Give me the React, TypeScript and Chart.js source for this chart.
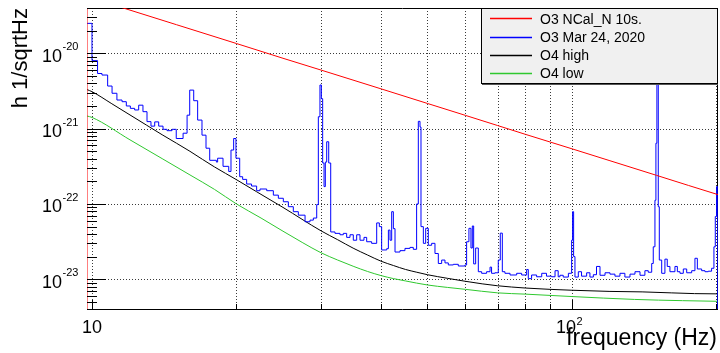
import React, { useEffect, useRef } from 'react';
import { Chart, registerables } from 'chart.js';

Chart.register(...registerables);

// ---- axis ranges ----
const X_MIN = 9.763;
const X_MAX = 201.5;
const Y_MIN = 4.03e-24;
const Y_MAX = 4.0e-20;
const FLOOR = 1e-30; // histogram edge drop (below the axis)

// ---- grid / tick values ----
const X_GRID = [10, 20, 30, 40, 50, 60, 70, 80, 90, 100, 200];
const X_MAJOR = [10, 100];
const Y_DECADES = [-23, -22, -21, -20];

const LABELS = ['O3 NCal_N 10s.', 'O3 Mar 24, 2020', 'O4 high', 'O4 low'];
const COLORS = ['#ff0000', '#0000ff', '#000000', '#2fc82f'];

// ---- O3 NCal_N 10s. (red) ----
const RED_F = [9.763, 9.763, 10, 12, 15, 20, 25, 30, 40, 50, 60, 70, 80, 100, 120, 150, 175, 201.5];
const RED_H = [FLOOR, 5.65e-20, 5.4e-20, 3.75e-20, 2.4e-20, 1.35e-20, 8.6e-21, 6.0e-21, 3.38e-21, 2.16e-21, 1.5e-21, 1.1e-21, 8.4e-22, 5.4e-22, 3.75e-22, 2.4e-22, 1.76e-22, 1.33e-22];

// ---- O3 Mar 24, 2020 (blue), bin left edges + values ----
const BLUE_F = [
  9.763, 10.0, 10.27, 10.49, 10.78, 11.01, 11.27, 11.55, 11.79, 12.02,
  12.27, 12.51, 12.77, 13.02, 13.27, 13.51, 13.77, 14.06, 14.33, 14.68,
  14.98, 15.48, 15.78, 15.98, 16.29, 16.6, 16.95, 17.28, 17.59, 18.16,
  18.27, 18.75, 19.27, 19.48, 19.73, 19.95, 20.31, 20.6, 21.0, 21.5,
  22.03, 22.39, 23.12, 23.87, 24.45, 25.04, 25.65, 26.27, 26.91, 27.79,
  28.46, 28.92, 29.39, 29.62, 29.85, 30.05, 30.24, 30.44, 30.63, 30.83,
  31.13, 31.43, 32.08, 32.86, 33.39, 33.93, 34.48, 35.03, 35.6, 36.17,
  36.87, 37.35, 38.25, 39.19, 39.69, 40.13, 41.12, 41.45, 41.78, 42.11,
  42.45, 42.79, 43.82, 44.88, 45.97, 46.71, 47.46, 47.85, 48.24, 48.47,
  49.02, 49.57, 50.2, 51.01, 51.83, 52.67, 53.52, 54.38, 55.26, 56.6,
  57.97, 59.85, 60.33, 61.0, 61.6, 62.0, 62.4, 63.0, 63.81, 64.84,
  66.4, 67.5, 68.0, 69.1, 70.22, 70.9, 71.6, 72.5, 74.3, 76.7,
  78.55, 80.46, 81.1, 82.4, 84.4, 86.5, 88.5, 90.7, 92.2, 93.6,
  94.4, 95.9, 98.3, 99.84, 100.3, 100.8, 101.45, 103.1, 104.7, 107.3,
  109.0, 110.8, 112.5, 114.4, 117.2, 120.0, 122.9, 125.9, 128.9, 132.1,
  135.3, 138.6, 141.9, 144.2, 146.6, 147.7, 148.9, 149.6, 150.3, 151.3,
  152.05, 153.8, 156.2, 157.96, 160.0, 163.9, 165.8, 167.9, 170.6, 173.4,
  177.6, 180.4, 182.5, 186.3, 189.3, 192.3, 195.4, 197.6, 198.9, 200.1,
  201.2, 201.2,
];
const BLUE_H = [
  2.5e-20, 8.0e-21, 5.4e-21, 5.15e-21, 3.68e-21, 2.95e-21, 2.4e-21, 2.28e-21, 2.0e-21, 1.86e-21,
  1.77e-21, 2.05e-21, 1.68e-21, 1.24e-21, 1.08e-21, 1.23e-21, 1.08e-21, 9.8e-22, 9.4e-22, 9.8e-22,
  7.4e-22, 8.7e-22, 1.51e-21, 3.25e-21, 2.35e-21, 1.3e-21, 8.2e-22, 5.5e-22, 3.8e-22, 3.6e-22,
  4.05e-22, 3.16e-22, 2.7e-22, 5.2e-22, 7.4e-22, 4.05e-22, 2.3e-22, 2.12e-22, 1.84e-22, 1.73e-22,
  1.5e-22, 1.58e-22, 1.5e-22, 1.31e-22, 1.19e-22, 1.07e-22, 9.2e-23, 7.9e-23, 7.1e-23, 5.8e-23,
  6.1e-23, 6.5e-23, 9.8e-23, 1.44e-21, 3.8e-21, 2.5e-21, 3.5e-22, 1.7e-22, 3.6e-22, 6.7e-22,
  3.5e-22, 4.25e-23, 4.07e-23, 3.9e-23, 4.07e-23, 3.6e-23, 3.9e-23, 3.3e-23, 3.9e-23, 3.3e-23,
  3.6e-23, 3.15e-23, 3.0e-23, 5.6e-23, 5.0e-23, 2.45e-23, 2.55e-23, 4.5e-23, 3.3e-23, 7.9e-23,
  4.7e-23, 2.3e-23, 2.4e-23, 2.57e-23, 2.65e-23, 2.5e-23, 1.0e-22, 1.25e-21, 1.05e-21, 5.0e-23,
  3.0e-23, 4.75e-23, 2.83e-23, 3.0e-23, 2.2e-23, 1.62e-23, 1.8e-23, 1.65e-23, 1.55e-23, 1.58e-23,
  1.5e-23, 1.55e-23, 3.15e-23, 4.75e-23, 2.6e-23, 5.1e-23, 1.6e-23, 2.6e-23, 1.26e-23, 1.2e-23,
  1.26e-23, 1.45e-23, 1.2e-23, 1.22e-23, 1.8e-23, 4.1e-23, 1.26e-23, 1.2e-23, 1.14e-23, 1.2e-23,
  1.14e-23, 1.35e-23, 1.02e-23, 1.14e-23, 1.08e-23, 1.2e-23, 1.1e-23, 1.08e-23, 1.3e-23, 1.08e-23,
  1.13e-23, 1.07e-23, 1.2e-23, 3.3e-23, 7.9e-23, 2.0e-23, 1.07e-23, 1.26e-23, 1.1e-23, 1.22e-23,
  1.07e-23, 1.15e-23, 1.48e-23, 1.13e-23, 1.22e-23, 1.17e-23, 1.1e-23, 1.2e-23, 1.07e-23, 1.17e-23,
  1.26e-23, 1.13e-23, 1.3e-23, 1.24e-23, 1.62e-23, 2.7e-23, 1.12e-22, 6.4e-22, 1.2e-20, 9.2e-23,
  1.8e-23, 1.2e-23, 1.85e-23, 1.48e-23, 1.26e-23, 1.48e-23, 1.26e-23, 1.2e-23, 1.37e-23, 1.22e-23,
  1.3e-23, 1.9e-23, 1.37e-23, 1.3e-23, 1.26e-23, 1.28e-23, 1.4e-23, 2.7e-23, 6.8e-23, 1.7e-22,
  1.7e-22, FLOOR,
];

// ---- O4 high (black) ----
const BLACK_F = [9.763, 10, 11, 12, 13, 14, 15, 16, 17, 18, 20, 22, 25, 30, 32.5, 35, 37.5, 40, 42.5, 45, 47.5, 50, 55, 60, 65, 70, 80, 90, 100, 120, 140, 161, 180, 201.5];
const BLACK_H = [3.3e-21, 3.1e-21, 2.14e-21, 1.52e-21, 1.11e-21, 8.3e-22, 6.4e-22, 5.0e-22, 3.9e-22, 3.1e-22, 2.1e-22, 1.46e-22, 9.0e-23, 4.4e-23, 3.35e-23, 2.59e-23, 2.1e-23, 1.74e-23, 1.52e-23, 1.35e-23, 1.24e-23, 1.15e-23, 1.03e-23, 9.4e-24, 8.7e-24, 8.2e-24, 7.65e-24, 7.35e-24, 7.15e-24, 6.9e-24, 6.8e-24, 6.6e-24, 6.45e-24, 6.4e-24];

// ---- O4 low (green) ----
const GREEN_F = [9.763, 10, 12, 14, 16, 18, 20, 22.5, 25, 27.5, 30, 32.5, 35, 37.5, 40, 42.5, 45, 50, 55, 60, 70, 80, 100, 135, 170, 201.5];
const GREEN_H = [1.47e-21, 1.41e-21, 7.1e-22, 4.0e-22, 2.43e-22, 1.56e-22, 1.0e-22, 6.5e-23, 4.35e-23, 3.05e-23, 2.25e-23, 1.8e-23, 1.49e-23, 1.27e-23, 1.12e-23, 1.02e-23, 9.5e-24, 8.4e-24, 7.8e-24, 7.35e-24, 6.6e-24, 6.35e-24, 5.9e-24, 5.4e-24, 5.2e-24, 5.1e-24];

const FONT = '"Liberation Sans", Arial, Helvetica, sans-serif';

const pts = (f: number[], h: number[]) => f.map((v, i) => ({ x: v, y: h[i] }));

const rootPlugin = {
  id: 'rootStyle',
  beforeDatasetsDraw(chart: any) {
    const { ctx, chartArea: a, scales } = chart;
    const xs = scales.x;
    const ys = scales.y;
    ctx.save();
    ctx.lineWidth = 1;
    ctx.strokeStyle = '#3a3a3a';
    ctx.setLineDash([1, 2]);
    ctx.beginPath();
    for (const v of X_GRID) {
      const px = Math.round(xs.getPixelForValue(v)) + 0.5;
      ctx.moveTo(px, a.top);
      ctx.lineTo(px, a.bottom);
    }
    for (const e of Y_DECADES) {
      const py = Math.round(ys.getPixelForValue(Math.pow(10, e))) + 0.5;
      ctx.moveTo(a.left, py);
      ctx.lineTo(a.right, py);
    }
    ctx.stroke();
    ctx.setLineDash([]);
    ctx.strokeStyle = '#000';
    ctx.beginPath();
    ctx.moveTo(a.left, a.top + 0.5);
    ctx.lineTo(a.right, a.top + 0.5);
    ctx.moveTo(a.right - 0.5, a.top);
    ctx.lineTo(a.right - 0.5, a.bottom);
    ctx.stroke();
    ctx.restore();
  },
  afterDatasetsDraw(chart: any) {
    const { ctx, chartArea: a, scales } = chart;
    const xs = scales.x;
    const ys = scales.y;
    ctx.save();
    ctx.lineWidth = 1;
    ctx.strokeStyle = '#000';
    ctx.beginPath();
    ctx.moveTo(a.left, a.bottom + 0.5);
    ctx.lineTo(a.right, a.bottom + 0.5);
    for (const v of X_GRID) {
      const px = Math.round(xs.getPixelForValue(v)) + 0.5;
      const len = X_MAJOR.includes(v) ? 9 : 5;
      ctx.moveTo(px, a.bottom);
      ctx.lineTo(px, a.bottom - len);
    }
    for (let e = -24; e <= -20; e++) {
      for (let k = 1; k <= 9; k++) {
        const v = k * Math.pow(10, e);
        if (v < Y_MIN || v > Y_MAX) continue;
        const py = Math.round(ys.getPixelForValue(v)) + 0.5;
        const len = k === 1 ? 19 : 10;
        ctx.moveTo(a.left, py);
        ctx.lineTo(a.left + len, py);
      }
    }
    ctx.stroke();
    ctx.restore();
  },
  afterDraw(chart: any) {
    const { ctx, chartArea: a, scales } = chart;
    const xs = scales.x;
    const ys = scales.y;
    ctx.save();
    ctx.fillStyle = '#000';
    ctx.textBaseline = 'alphabetic';

    for (const e of Y_DECADES) {
      const py = ys.getPixelForValue(Math.pow(10, e));
      ctx.font = `18px ${FONT}`;
      ctx.textAlign = 'right';
      ctx.fillText('10', a.left - 25, py + 8.5);
      ctx.font = `11px ${FONT}`;
      ctx.textAlign = 'left';
      ctx.fillText(String(e), a.left - 24.5, py - 3);
    }

    const p10 = xs.getPixelForValue(10);
    ctx.font = `18px ${FONT}`;
    ctx.textAlign = 'center';
    ctx.fillText('10', p10, a.bottom + 24);
    const p100 = xs.getPixelForValue(100);
    ctx.textAlign = 'right';
    ctx.fillText('10', p100 + 4, a.bottom + 24);
    ctx.font = `11px ${FONT}`;
    ctx.textAlign = 'left';
    ctx.fillText('2', p100 + 4.5, a.bottom + 16);

    ctx.font = `23px ${FONT}`;
    ctx.textAlign = 'right';
    ctx.fillText('frequency (Hz)', a.right - 1, a.bottom + 36);
    ctx.save();
    ctx.translate(27, a.top);
    ctx.rotate(-Math.PI / 2);
    ctx.font = `22px ${FONT}`;
    ctx.textAlign = 'right';
    ctx.fillText('h 1/sqrtHz', 0, 0);
    ctx.restore();

    const lx1 = 481;
    const lx2 = a.right;
    const ly1 = a.top;
    const ly2 = 83;
    ctx.fillStyle = '#f0f0f0';
    ctx.fillRect(lx1, ly1, lx2 - lx1, ly2 - ly1);
    ctx.strokeStyle = '#000';
    ctx.lineWidth = 1;
    ctx.strokeRect(lx1 + 0.5, ly1 + 0.5, lx2 - lx1 - 1, ly2 - ly1);
    ctx.strokeStyle = '#555';
    ctx.beginPath();
    ctx.moveTo(lx1 + 1, ly2 + 1.5);
    ctx.lineTo(lx2, ly2 + 1.5);
    ctx.stroke();

    const ds = chart.data.datasets;
    ctx.font = `14px ${FONT}`;
    ctx.textAlign = 'left';
    for (let i = 0; i < ds.length; i++) {
      const ry = ly1 + 10.3 + i * 18.3;
      const ly = Math.round(ry) + 0.5;
      ctx.strokeStyle = ds[i].borderColor;
      ctx.lineWidth = 1.3;
      ctx.beginPath();
      ctx.moveTo(490, ly);
      ctx.lineTo(532, ly);
      ctx.stroke();
      ctx.fillStyle = '#000';
      ctx.fillText(ds[i].label, 540, ry + 5.2);
    }
    ctx.restore();
  },
};

export default function App() {
  const ref = useRef<HTMLCanvasElement>(null);

  useEffect(() => {
    if (!ref.current) return;
    const common = { borderWidth: 1, pointRadius: 0, fill: false, tension: 0 };
    const chart = new Chart(ref.current, {
      type: 'line',
      data: {
        datasets: [
          { ...common, label: LABELS[0], data: pts(RED_F, RED_H), borderColor: COLORS[0] },
          { ...common, label: LABELS[1], data: pts(BLUE_F, BLUE_H), borderColor: COLORS[1], stepped: 'before' },
          { ...common, label: LABELS[2], data: pts(BLACK_F, BLACK_H), borderColor: COLORS[2], cubicInterpolationMode: 'monotone' },
          { ...common, label: LABELS[3], data: pts(GREEN_F, GREEN_H), borderColor: COLORS[3], cubicInterpolationMode: 'monotone' },
        ] as any,
      },
      options: {
        responsive: false,
        animation: false,
        events: [],
        layout: { padding: { left: 87, right: 2, top: 8, bottom: 44 } },
        plugins: { legend: { display: false }, tooltip: { enabled: false } },
        scales: {
          x: {
            type: 'logarithmic',
            min: X_MIN,
            max: X_MAX,
            ticks: { display: false },
            grid: { display: false, drawTicks: false },
            border: { display: false },
          },
          y: {
            type: 'logarithmic',
            min: Y_MIN,
            max: Y_MAX,
            ticks: { display: false },
            grid: { display: false, drawTicks: false },
            border: { display: false },
          },
        },
      } as any,
      plugins: [rootPlugin],
    });
    return () => chart.destroy();
  }, []);

  return (
    <div style={{ position: 'fixed', left: 0, top: 0, width: 720, height: 353, background: '#fff' }}>
      <canvas ref={ref} width={720} height={353} style={{ display: 'block' }} />
    </div>
  );
}
